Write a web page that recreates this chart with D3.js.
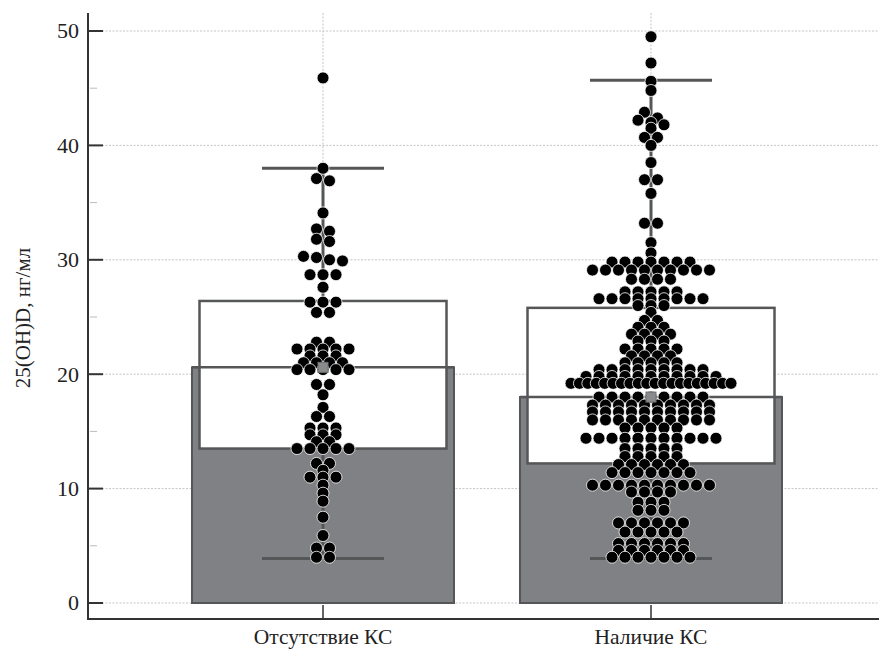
<!DOCTYPE html>
<html>
<head>
<meta charset="utf-8">
<script src="https://cdn.jsdelivr.net/npm/d3@7"></script>
<style>
  html, body { margin: 0; padding: 0; background: #fff; }
</style>
</head>
<body>
<svg id="chart" width="879" height="651"></svg>
<script>
// categories and summary stats
const categories = ["Отсутствие КС", "Наличие КС"];
const means = [20.6, 18.0];
const q1 = [13.5, 12.2];
const q3 = [26.4, 25.8];
const whiskerLow = [3.9, 3.9];
const whiskerHigh = [38.0, 45.7];
const yTicks = [0, 10, 20, 30, 40, 50];
const yMinorTicks = [5, 15, 25, 35, 45];

// individual points, group 1 (no KS)
const valuesNoKS = [
  45.9, 38.0, 37.1, 36.9, 34.1, 32.7, 32.5, 31.8, 31.6,
  30.3, 30.2, 30.0, 29.9, 28.7, 28.7, 28.7, 27.6,
  26.3, 26.3, 26.3, 25.4, 25.4, 22.8, 22.8,
  22.2, 22.2, 22.2, 22.2, 22.2, 21.6, 21.6, 21.6,
  21.0, 21.0, 21.0, 21.0, 20.4, 20.4, 20.4, 20.4, 20.4,
  19.1, 19.1, 18.2, 17.1, 16.3, 16.3, 15.3, 15.3, 15.3,
  14.7, 14.7, 14.7, 14.1, 14.1, 13.5, 13.5, 13.5, 13.5, 13.5,
  12.2, 12.2, 11.6, 11.0, 11.0, 11.0, 10.3, 9.6, 8.9, 7.5, 5.9,
  4.8, 4.8, 4.0, 4.0
];

// individual points, group 2 (KS)
const valuesKS = [
  49.5, 47.2, 45.6, 44.8, 42.9, 42.4, 42.2, 42.0, 41.8, 41.5,
  40.7, 40.7, 40.0, 38.5, 37.0, 37.0, 35.8, 33.2, 33.2, 31.5, 30.6,
  29.8, 29.8, 29.8, 29.8, 29.8, 29.8, 29.8,
  29.1, 29.1, 29.1, 29.1, 29.1, 29.1, 29.1, 29.1, 29.1, 29.1,
  28.3, 28.3, 28.3, 28.3, 27.2, 27.2, 27.2, 27.2, 27.2,
  26.6, 26.6, 26.6, 26.6, 26.6, 26.6, 26.6, 26.6, 26.6,
  26.0, 26.0, 26.0, 25.4, 24.7, 24.7, 24.1, 24.1, 24.1,
  23.5, 23.5, 23.5, 23.5, 22.9, 22.9, 22.9,
  22.2, 22.2, 22.2, 22.2, 22.2, 21.6, 21.6, 21.6, 21.6,
  21.0, 21.0, 21.0, 21.0, 21.0,
  20.4, 20.4, 20.4, 20.4, 20.4, 20.4, 20.4, 20.4, 20.4,
  19.8, 19.8, 19.8, 19.8, 19.8, 19.8, 19.8, 19.8, 19.8, 19.8, 19.8,
  19.2, 19.2, 19.2, 19.2, 19.2, 19.2, 19.2, 19.2, 19.2, 19.2,
  19.2, 19.2, 19.2, 19.2, 19.2, 19.2, 19.2, 19.2, 19.2, 19.2,
  18.0, 18.0, 18.0, 18.0, 18.0, 18.0, 18.0, 18.0, 18.0,
  17.3, 17.3, 17.3, 17.3, 17.3, 17.3, 17.3, 17.3, 17.3, 17.3,
  16.7, 16.7, 16.7, 16.7, 16.7, 16.7, 16.7, 16.7, 16.7, 16.7,
  16.0, 16.0, 16.0, 16.0, 16.0, 16.0, 16.0, 16.0, 16.0, 16.0,
  15.3, 15.3, 15.3, 15.3, 15.3,
  14.4, 14.4, 14.4, 14.4, 14.4, 14.4, 14.4, 14.4, 14.4, 14.4, 14.4,
  13.5, 13.5, 13.5, 13.5, 13.5, 12.8, 12.8, 12.8, 12.8, 12.8,
  12.1, 12.1, 12.1, 12.1, 12.1, 12.1,
  11.4, 11.4, 11.4, 11.4, 11.4, 11.4, 11.4,
  10.3, 10.3, 10.3, 10.3, 10.3, 10.3, 10.3, 10.3, 10.3, 10.3,
  9.7, 9.7, 9.7, 9.7, 8.8, 8.8, 8.8, 8.1, 8.1, 8.1,
  7.0, 7.0, 7.0, 7.0, 7.0, 7.0, 6.2, 6.2, 6.2, 6.2, 6.2,
  5.2, 5.2, 5.2, 5.2, 5.2, 5.2, 4.6, 4.6, 4.6, 4.6, 4.6, 4.6,
  4.0, 4.0, 4.0, 4.0, 4.0, 4.0, 4.0
];
const groups = [valuesNoKS, valuesKS];

const svg = d3.select("#chart")
    .attr("font-family", "'Liberation Serif', 'Times New Roman', 'DejaVu Serif', serif");
const plotLeft = 88, plotRight = 879, axisY = 619, plotTop = 13;

const y = d3.scaleLinear().domain([0, 50]).range([603, 31]);
const x = d3.scalePoint().domain(categories).range([323, 651]);

const barHalf = 131, boxHalf = 123.5, capHalf = 61;
const dark = "#555658";

// grid
svg.append("g").selectAll("line").data(yTicks).join("line")
    .attr("x1", plotLeft).attr("x2", plotRight)
    .attr("y1", d => y(d)).attr("y2", d => y(d))
    .attr("stroke", "#c4c4c4").attr("stroke-width", 1).attr("stroke-dasharray", "2,1.5");
svg.append("g").selectAll("line").data(categories).join("line")
    .attr("x1", d => x(d)).attr("x2", d => x(d))
    .attr("y1", plotTop).attr("y2", y(0))
    .attr("stroke", "#c4c4c4").attr("stroke-width", 1).attr("stroke-dasharray", "2,1.5");

// bars (mean)
svg.append("g").selectAll("rect").data(categories).join("rect")
    .attr("x", d => x(d) - barHalf).attr("width", barHalf * 2)
    .attr("y", (d, i) => y(means[i]))
    .attr("height", (d, i) => y(0) - y(means[i]))
    .attr("fill", "#808184").attr("stroke", dark).attr("stroke-width", 2);

// boxes (IQR), white inside
svg.append("g").selectAll("rect").data(categories).join("rect")
    .attr("x", d => x(d) - boxHalf).attr("width", boxHalf * 2)
    .attr("y", (d, i) => y(q3[i]))
    .attr("height", (d, i) => y(q1[i]) - y(q3[i]))
    .attr("fill", "#fff").attr("stroke", dark).attr("stroke-width", 2.5);

// whiskers outside the box
const wh = svg.append("g").attr("stroke", dark).attr("stroke-width", 3);
categories.forEach((c, i) => {
  wh.append("line").attr("x1", x(c)).attr("x2", x(c))
    .attr("y1", y(q1[i])).attr("y2", y(whiskerLow[i]));
  wh.append("line").attr("x1", x(c)).attr("x2", x(c))
    .attr("y1", y(q3[i])).attr("y2", y(whiskerHigh[i]));
  [whiskerLow[i], whiskerHigh[i]].forEach(v => {
    wh.append("line").attr("x1", x(c) - capHalf).attr("x2", x(c) + capHalf)
      .attr("y1", y(v)).attr("y2", y(v));
  });
});

// mean line across bar width
svg.append("g").selectAll("line").data(categories).join("line")
    .attr("x1", d => x(d) - barHalf).attr("x2", d => x(d) + barHalf)
    .attr("y1", (d, i) => y(means[i])).attr("y2", (d, i) => y(means[i]))
    .attr("stroke", dark).attr("stroke-width", 2.5);

// dot layout: group close values into rows and spread them sideways
function swarm(values) {
  const sorted = values.slice().sort((a, b) => b - a);
  const rows = [];
  let cur = null;
  sorted.forEach(v => {
    if (!cur || cur.start - v > 0.55) { cur = { start: v, items: [] }; rows.push(cur); }
    cur.items.push(v);
  });
  const pts = [];
  rows.forEach(r => {
    const n = r.items.length;
    const sp = n > 1 ? Math.min(13, 160 / (n - 1)) : 0;
    r.items.forEach((v, i) => pts.push({ v: v, dx: (i - (n - 1) / 2) * sp }));
  });
  return pts;
}

categories.forEach((c, i) => {
  svg.append("g").selectAll("circle").data(swarm(groups[i])).join("circle")
    .attr("cx", d => x(c) + d.dx).attr("cy", d => y(d.v)).attr("r", 6)
    .attr("fill", "#000").attr("stroke", "#fff").attr("stroke-width", 0.8);
});

// mean markers
svg.append("g").selectAll("rect").data(categories).join("rect")
    .attr("x", d => x(d) - 5).attr("y", (d, i) => y(means[i]) - 5)
    .attr("width", 10).attr("height", 10)
    .attr("fill", "#8a8b8d").attr("stroke", "#6d6e70").attr("stroke-width", 1);

// y axis
svg.append("line").attr("x1", plotLeft).attr("x2", plotLeft).attr("y1", plotTop).attr("y2", axisY + 1)
    .attr("stroke", "#333").attr("stroke-width", 2);
svg.append("g").selectAll("line").data(yTicks).join("line")
    .attr("x1", plotLeft).attr("x2", plotLeft + 15)
    .attr("y1", d => y(d)).attr("y2", d => y(d))
    .attr("stroke", "#333").attr("stroke-width", 2);
svg.append("g").selectAll("line").data(yMinorTicks).join("line")
    .attr("x1", plotLeft + 2).attr("x2", plotLeft + 9)
    .attr("y1", d => y(d)).attr("y2", d => y(d))
    .attr("stroke", "#bbb").attr("stroke-width", 1);
svg.append("g").selectAll("text").data(yTicks).join("text")
    .attr("x", 79).attr("y", d => y(d)).attr("dy", "0.34em")
    .attr("text-anchor", "end").attr("font-size", 22).attr("fill", "#222")
    .text(d => d);
svg.append("text")
    .attr("transform", "translate(30,318) rotate(-90)")
    .attr("text-anchor", "middle").attr("font-size", 21).attr("fill", "#222")
    .text("25(OH)D, нг/мл");

// x axis
svg.append("line").attr("x1", plotLeft - 1).attr("x2", plotRight).attr("y1", axisY).attr("y2", axisY)
    .attr("stroke", "#333").attr("stroke-width", 2);
svg.append("g").selectAll("line").data(categories).join("line")
    .attr("x1", d => x(d)).attr("x2", d => x(d))
    .attr("y1", axisY - 14).attr("y2", axisY)
    .attr("stroke", "#333").attr("stroke-width", 1.5);
svg.append("g").selectAll("text").data(categories).join("text")
    .attr("x", d => x(d)).attr("y", 644)
    .attr("text-anchor", "middle").attr("font-size", 21.5).attr("fill", "#222")
    .text(d => d);
</script>
</body>
</html>
